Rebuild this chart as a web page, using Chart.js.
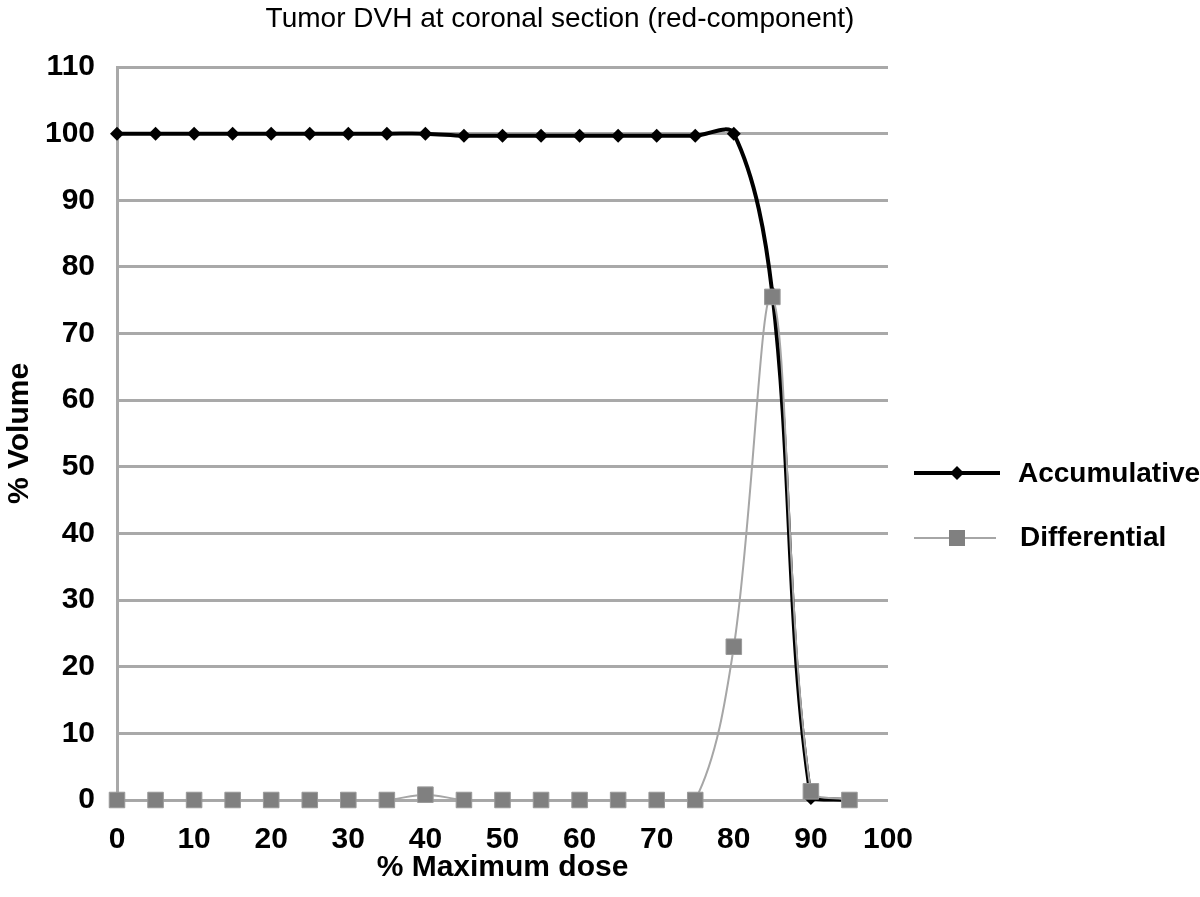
<!DOCTYPE html>
<html lang="en">
<head>
    <meta charset="UTF-8">
    <title>Tumor DVH at coronal section (red-component)</title>
    <script src="https://cdn.jsdelivr.net/npm/chart.js"></script>
    <style>
        html, body { margin: 0; padding: 0; background: #fff; }
        #wrap { width: 1200px; height: 897px; }
    </style>
</head>
<body>
    <div id="wrap"><canvas id="dvhChart" width="1200" height="897"></canvas></div>

    <script>
        // dados
        const doses = [0, 5, 10, 15, 20, 25, 30, 35, 40, 45, 50, 55, 60, 65, 70, 75, 80, 85, 90, 95];
        const accumulative = [100, 100, 100, 100, 100, 100, 100, 100, 100, 99.7, 99.7, 99.7, 99.7, 99.7, 99.7, 99.7, 100, 76, 0.3, 0];
        const differential = [0, 0, 0, 0, 0, 0, 0, 0, 0.8, 0, 0, 0, 0, 0, 0, 0, 23, 75.5, 1.3, 0];
        const yTicks = [0, 10, 20, 30, 40, 50, 60, 70, 80, 90, 100, 110];
        const xTicks = [0, 10, 20, 30, 40, 50, 60, 70, 80, 90, 100];

        const chartTitle = "Tumor DVH at coronal section (red-component)";
        const seriesNames = ["Accumulative", "Differential"];

        const fontFamily = "'Liberation Sans', Arial, sans-serif";
        const gridColor = "#a9a9a9";

        const toPoints = vals => doses.map((d, i) => ({ x: d, y: vals[i] }));

        // título e legenda desenhados à mão (linha + marcador como no Excel)
        const extrasPlugin = {
            id: "extras",
            afterDraw(chart) {
                const ctx = chart.ctx;
                ctx.save();
                ctx.fillStyle = "#000";
                ctx.textBaseline = "middle";
                ctx.textAlign = "center";
                ctx.font = "28px " + fontFamily;
                ctx.fillText(chartTitle, 560, 19);

                // Accumulative
                ctx.strokeStyle = "#000";
                ctx.lineWidth = 4;
                ctx.beginPath();
                ctx.moveTo(914, 473);
                ctx.lineTo(1000, 473);
                ctx.stroke();
                ctx.beginPath();
                ctx.moveTo(950, 473);
                ctx.lineTo(957, 466);
                ctx.lineTo(964, 473);
                ctx.lineTo(957, 480);
                ctx.closePath();
                ctx.fill();

                // Differential
                ctx.strokeStyle = "#a6a6a6";
                ctx.lineWidth = 2;
                ctx.beginPath();
                ctx.moveTo(914, 538);
                ctx.lineTo(996, 538);
                ctx.stroke();
                ctx.fillStyle = "#808080";
                ctx.fillRect(949, 530, 16, 16);

                ctx.fillStyle = "#000";
                ctx.textAlign = "left";
                ctx.font = "bold 28px " + fontFamily;
                ctx.fillText(seriesNames[0], 1018, 474);
                ctx.fillText(seriesNames[1], 1020, 538);
                ctx.restore();
            }
        };

        new Chart(document.getElementById("dvhChart"), {
            type: "line",
            data: {
                datasets: [{
                    label: seriesNames[0],
                    data: toPoints(accumulative),
                    borderColor: "#000",
                    backgroundColor: "#000",
                    borderWidth: 4,
                    pointStyle: "rectRot",
                    pointRadius: 7,
                    pointBorderWidth: 0,
                    tension: 0.35,
                    clip: false,
                    order: 1
                }, {
                    label: seriesNames[1],
                    data: toPoints(differential),
                    borderColor: "#a6a6a6",
                    backgroundColor: "#808080",
                    borderWidth: 2,
                    pointStyle: "rect",
                    pointRadius: 11,
                    pointBorderColor: "#999",
                    pointBorderWidth: 1,
                    tension: 0.35,
                    clip: false,
                    order: 0
                }]
            },
            options: {
                responsive: false,
                animation: false,
                events: [],
                layout: { padding: { top: 67, right: 312, bottom: 0, left: 0 } },
                plugins: {
                    legend: { display: false },
                    title: { display: false },
                    tooltip: { enabled: false }
                },
                scales: {
                    x: {
                        type: "linear",
                        min: 0,
                        max: 100,
                        afterFit: s => { s.height = 97; },
                        afterBuildTicks: s => { s.ticks = xTicks.map(v => ({ value: v })); },
                        grid: { display: false, drawTicks: false },
                        border: { display: false },
                        ticks: {
                            padding: 22,
                            color: "#000",
                            maxRotation: 0,
                            font: { family: fontFamily, size: 30, weight: "bold" }
                        },
                        title: {
                            display: true,
                            text: "% Maximum dose",
                            color: "#000",
                            padding: { top: 0, bottom: 11 },
                            font: { family: fontFamily, size: 30, weight: "bold" }
                        }
                    },
                    y: {
                        min: 0,
                        max: 110,
                        afterFit: s => { s.width = 117; },
                        afterBuildTicks: s => { s.ticks = yTicks.map(v => ({ value: v })); },
                        grid: { color: gridColor, lineWidth: 3, drawTicks: false },
                        border: { display: true, color: gridColor, width: 3 },
                        ticks: {
                            padding: 22,
                            color: "#000",
                            font: { family: fontFamily, size: 30, weight: "bold" }
                        },
                        title: {
                            display: true,
                            text: "% Volume",
                            color: "#000",
                            padding: { top: 2, bottom: 0 },
                            font: { family: fontFamily, size: 30, weight: "bold" }
                        }
                    }
                }
            },
            plugins: [extrasPlugin]
        });
    </script>
</body>
</html>
